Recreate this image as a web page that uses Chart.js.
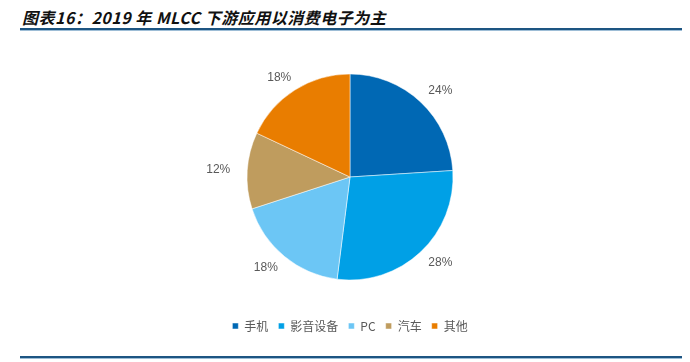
<!DOCTYPE html>
<html>
<head>
<meta charset="utf-8">
<script src="https://cdn.jsdelivr.net/npm/chart.js@4"></script>
<style>
  body { margin: 0; background: #fff; }
  #wrap { position: relative; width: 690px; height: 362px; overflow: hidden; }
  #title {
    position: absolute; left: 22px; top: 5px;
    font: italic bold 16px "Noto Sans CJK SC", "DejaVu Sans", sans-serif;
    letter-spacing: 0.5px;
    color: #111; white-space: nowrap;
  }
  .rule { position: absolute; left: 20px; width: 662px; height: 2px; background: #1d5582; border-bottom: 1px solid #9dbdd6; }
  #box { position: absolute; left: 0; top: 0; width: 690px; height: 362px; }
</style>
</head>
<body>
<div id="wrap">
  <div id="title">图表16：2019 年 MLCC 下游应用以消费电子为主</div>
  <div class="rule" style="top:28px"></div>
  <div class="rule" style="top:356px"></div>
  <div id="box"><canvas id="pie"></canvas></div>
</div>
<script>
const categories = ['手机', '影音设备', 'PC', '汽车', '其他'];
const shares = [24, 28, 18, 12, 18];
const colors = ['#0068b4', '#00a0e6', '#6cc6f5', '#bf9c5e', '#e97d00'];

// percent labels outside each slice (label box pushed out like excel's "outside end")
const outLabels = {
    id: 'outLabels',
    afterDatasetsDraw: (chart) => {
        const ctx = chart.ctx;
        const meta = chart.getDatasetMeta(0);
        ctx.save();
        ctx.font = '12px "Liberation Sans", Arial, sans-serif';
        ctx.fillStyle = '#595959';
        ctx.textAlign = 'center';
        ctx.textBaseline = 'middle';
        meta.data.forEach((arc, i) => {
            const p = arc.getProps(['x', 'y', 'startAngle', 'endAngle', 'outerRadius'], true);
            const mid = (p.startAngle + p.endAngle) / 2;
            const d = p.outerRadius + 9;
            const x = p.x + Math.cos(mid) * (d + 20);
            const y = p.y + Math.sin(mid) * (d + 6);
            ctx.fillText(shares[i] + '%', x, y);
        });
        ctx.restore();
    }
};

new Chart(
    document.getElementById('pie'),
    {
        type: 'pie',
        data: {
            labels: categories,
            datasets: [
                {
                    data: shares,
                    backgroundColor: colors,
                    borderColor: '#ffffff',
                    borderWidth: 0.5
                }
            ]
        },
        options: {
            responsive: true,
            maintainAspectRatio: false,
            animation: false,
            radius: 103,
            layout: {
                padding: { top: 44, bottom: 20, left: 10 }
            },
            plugins: {
                tooltip: { enabled: false },
                legend: {
                    position: 'bottom',
                    labels: {
                        boxWidth: 6,
                        boxHeight: 6,
                        padding: 10,
                        color: '#595959',
                        font: { size: 12, family: '"Noto Sans CJK SC", "Liberation Sans", sans-serif' }
                    }
                }
            }
        },
        plugins: [outLabels]
    }
);
</script>
</body>
</html>
